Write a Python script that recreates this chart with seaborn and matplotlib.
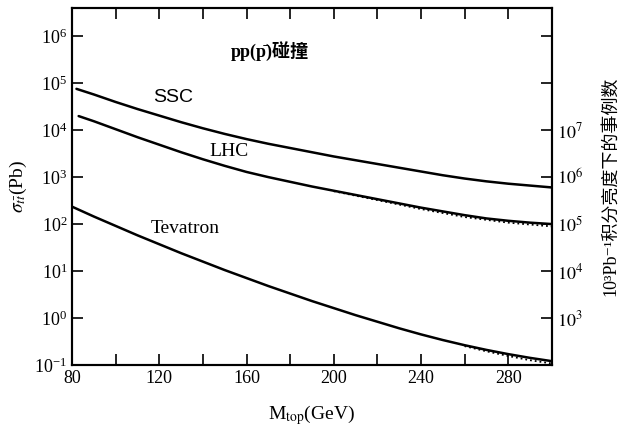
import numpy as np
import pandas as pd
import seaborn as sns
import matplotlib.pyplot as plt
from matplotlib.ticker import FixedLocator, NullLocator, FuncFormatter, MultipleLocator

# top mass (GeV) and log10 of the ttbar cross section (pb)
ssc_m = [82, 90, 100, 110, 120, 130, 140, 150, 160, 170, 180, 190, 200, 210,
         220, 230, 240, 250, 260, 270, 280, 290, 300]
ssc_log = [4.88, 4.76, 4.60, 4.45, 4.31, 4.17, 4.04, 3.92, 3.81, 3.71, 3.62,
           3.53, 3.44, 3.36, 3.28, 3.20, 3.12, 3.04, 2.97, 2.91, 2.86, 2.82, 2.78]

lhc_m = [83, 90, 100, 110, 120, 130, 140, 150, 160, 170, 180, 190, 200, 210,
         220, 230, 240, 250, 260, 270, 280, 290, 300]
lhc_log = [4.30, 4.19, 4.02, 3.85, 3.69, 3.53, 3.38, 3.24, 3.11, 3.00, 2.90,
           2.80, 2.71, 2.62, 2.53, 2.44, 2.35, 2.27, 2.19, 2.12, 2.07, 2.03, 2.00]
lhc_dot_m = [200, 220, 240, 260, 280, 300]
lhc_dot_log = [2.70, 2.51, 2.32, 2.15, 2.03, 1.95]

tev_m = [80, 90, 100, 110, 120, 130, 140, 150, 160, 170, 180, 190, 200, 210,
         220, 230, 240, 250, 260, 270, 280, 290, 300]
tev_log = [2.37, 2.16, 1.96, 1.76, 1.57, 1.38, 1.20, 1.02, 0.85, 0.68, 0.52,
           0.36, 0.21, 0.06, -0.08, -0.22, -0.35, -0.47, -0.58, -0.68, -0.77,
           -0.85, -0.92]
tev_dot_m = [260, 270, 280, 290, 300]
tev_dot_log = [-0.60, -0.71, -0.81, -0.90, -0.97]

left_ticks = [0.1, 1, 10, 100, 1e3, 1e4, 1e5, 1e6]
right_ticks = [1e3, 1e4, 1e5, 1e6, 1e7, 1e8, 1e9]
right_labeled = [1e3, 1e4, 1e5, 1e6, 1e7]
lumi = 1e3  # pb^-1

sns.set_style("ticks")
plt.rcParams['font.family'] = ['Liberation Serif', 'DejaVu Serif', 'Noto Sans CJK SC']
plt.rcParams['mathtext.fontset'] = 'stix'
for k in ['text.color', 'axes.labelcolor', 'xtick.color', 'ytick.color', 'axes.edgecolor']:
    plt.rcParams[k] = 'black'

fig = plt.figure(figsize=(6.27, 4.45), dpi=100)
ax = fig.add_axes([0.115, 0.18, 0.765, 0.802])

sns.lineplot(x=ssc_m, y=10 ** np.array(ssc_log), color='black', lw=1.8, ax=ax)
sns.lineplot(x=lhc_m, y=10 ** np.array(lhc_log), color='black', lw=1.8, ax=ax)
sns.lineplot(x=lhc_dot_m, y=10 ** np.array(lhc_dot_log), color='black', lw=1.3,
             linestyle=':', ax=ax)
sns.lineplot(x=tev_m, y=10 ** np.array(tev_log), color='black', lw=1.8, ax=ax)
sns.lineplot(x=tev_dot_m, y=10 ** np.array(tev_dot_log), color='black', lw=1.3,
             linestyle=':', ax=ax)

ax.set_yscale('log')
ax.set_xlim(80, 300)
ax.set_ylim(0.1, 4e6)

ax.yaxis.set_major_locator(FixedLocator(left_ticks))
ax.yaxis.set_minor_locator(NullLocator())
ax.xaxis.set_major_locator(MultipleLocator(40))
ax.xaxis.set_minor_locator(MultipleLocator(20))
ax.tick_params(axis='both', which='both', direction='in', top=True, width=1.2)
ax.tick_params(axis='both', which='major', length=8, labelsize=13)
ax.tick_params(axis='x', which='minor', length=8)
ax.tick_params(axis='y', right=False)

for s in ax.spines.values():
    s.set_linewidth(1.5)

ax.set_xlabel(r'M$_{\rm top}$(GeV)', fontsize=14, labelpad=12)
ax.set_ylabel(r'$\sigma_{t\bar{t}}$(Pb)', fontsize=14, labelpad=4)

# events for 10^3 pb^-1 on the right
ax2 = ax.twinx()
ax2.set_yscale('log')
lo, hi = ax.get_ylim()
ax2.set_ylim(lo * lumi, hi * lumi)
ax2.yaxis.set_major_locator(FixedLocator(right_ticks))
ax2.yaxis.set_minor_locator(NullLocator())
ax2.yaxis.set_major_formatter(FuncFormatter(
    lambda v, p: r'$10^{%d}$' % round(np.log10(v)) if v in right_labeled else ''))
ax2.tick_params(axis='y', direction='in', length=8, width=1.2, labelsize=13)
for s in ax2.spines.values():
    s.set_linewidth(1.5)
ax2.set_ylabel('10³Pb⁻¹积分亮度下的事例数', fontsize=13, labelpad=14)

ax.text(117, 10 ** 4.7, 'SSC', fontsize=14, va='center', family='Liberation Sans')
ax.text(143, 10 ** 3.55, 'LHC', fontsize=14, va='center')
ax.text(116, 10 ** 1.9, 'Tevatron', fontsize=14, va='center')
ax.text(153, 10 ** 5.69, 'pp(p̄)碰撞', fontsize=13, va='center', fontweight='bold')

fig.savefig('out.png', dpi=100)
